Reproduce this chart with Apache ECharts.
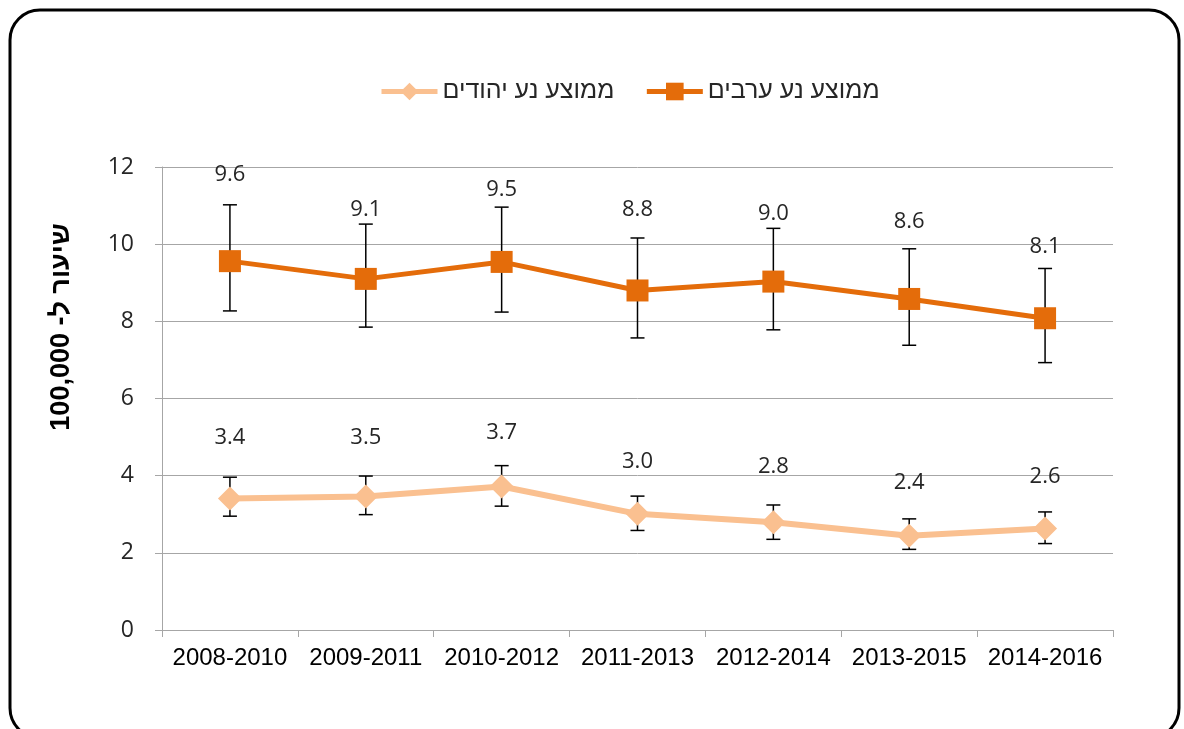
<!DOCTYPE html>
<html>
<head>
<meta charset="utf-8">
<script src="https://cdn.jsdelivr.net/npm/echarts@6/dist/echarts.min.js"></script>
<style>
html,body{margin:0;padding:0;background:#fff;}
#chart{width:1184px;height:729px;}
</style>
</head>
<body>
<div id="chart"></div>
<script>
// ---- data ----
const categories = ['2008-2010','2009-2011','2010-2012','2011-2013','2012-2014','2013-2015','2014-2016'];
const arabName = 'ממוצע נע ערבים';
const jewName = 'ממוצע נע יהודים';
const arabValues = [9.56, 9.10, 9.54, 8.80, 9.03, 8.58, 8.08];
const arabHigh   = [11.02, 10.52, 10.96, 10.16, 10.41, 9.88, 9.37];
const arabLow    = [8.27, 7.85, 8.24, 7.57, 7.78, 7.38, 6.93];
const jewValues  = [3.41, 3.46, 3.72, 3.01, 2.79, 2.44, 2.63];
const jewHigh    = [3.96, 3.99, 4.26, 3.47, 3.24, 2.88, 3.06];
const jewLow     = [2.95, 2.99, 3.21, 2.58, 2.35, 2.09, 2.24];
const yAxisTitle = 'שיעור ל- 100,000';

// label nudges above the error-bar caps (px)
const arabLabelGap = [30, 14, 17, 28, 15, 27, 22];
const jewLabelGap  = [39, 38, 33, 34, 38, 36, 35];

const ORANGE = '#E46C0A';
const PEACH = '#FAC090';
const GRIDC = '#a6a6a6';
const TXT = '#262626';

function errData(vals, hi, lo, gaps) {
  return vals.map((v, i) => [i, hi[i], lo[i], v, gaps[i]]);
}
function renderErr(params, api) {
  const i = api.value(0);
  const top = api.coord([i, api.value(1)]);
  const bot = api.coord([i, api.value(2)]);
  const v = api.value(3);
  const gap = api.value(4);
  const cap = 7;
  const ls = {stroke: '#000', lineWidth: 1.5};
  return {
    type: 'group',
    children: [
      {type: 'line', shape: {x1: top[0], y1: top[1], x2: bot[0], y2: bot[1]}, style: ls},
      {type: 'line', shape: {x1: top[0]-cap, y1: top[1], x2: top[0]+cap, y2: top[1]}, style: ls},
      {type: 'line', shape: {x1: bot[0]-cap, y1: bot[1], x2: bot[0]+cap, y2: bot[1]}, style: ls},
      {type: 'text', x: top[0], y: top[1]-gap, style: {
        text: v.toFixed(1), fill: TXT, fontSize: 22, fontFamily: '"Open Sans", sans-serif',
        textAlign: 'center', textVerticalAlign: 'middle', align: 'center', verticalAlign: 'middle'}}
    ]
  };
}

const chart = echarts.init(document.getElementById('chart'), null, {renderer: 'canvas'});
chart.setOption({
  animation: false,
  backgroundColor: '#fff',
  graphic: [
    {type: 'rect', shape: {x: 10, y: 10, width: 1169, height: 728, r: 30},
     style: {fill: 'none', stroke: '#000', lineWidth: 3}, z: -1},
    {type: 'text', x: 62, y: 327, rotation: Math.PI/2,
     style: {text: yAxisTitle, fill: '#000', fontSize: 27, fontWeight: 'bold',
       fontFamily: '"Liberation Sans", Arial, sans-serif',
       textAlign: 'center', textVerticalAlign: 'middle', align: 'center', verticalAlign: 'middle'}}
  ],
  legend: {
    data: [jewName, arabName],
    left: 374, top: 74,
    itemWidth: 56, itemHeight: 22, itemGap: 30,
    lineStyle: {width: 5},
    textStyle: {fontSize: 25, color: TXT, fontFamily: '"Liberation Sans", Arial, sans-serif'}
  },
  grid: {left: 162, right: 71, top: 167, bottom: 99, containLabel: false},
  xAxis: {
    type: 'category', data: categories, boundaryGap: true,
    axisLine: {lineStyle: {color: GRIDC, width: 1}},
    axisTick: {show: true, length: 7, interval: 0, lineStyle: {color: GRIDC}},
    axisLabel: {color: '#000', fontSize: 24, margin: 16, interval: 0, hideOverlap: false,
      fontFamily: '"Liberation Sans", Arial, sans-serif'}
  },
  yAxis: {
    type: 'value', min: 0, max: 12, interval: 2,
    axisLine: {show: true, lineStyle: {color: GRIDC, width: 1}},
    axisTick: {show: true, length: 7, lineStyle: {color: GRIDC}},
    splitLine: {lineStyle: {color: GRIDC, width: 1}},
    axisLabel: {color: TXT, fontSize: 23, margin: 28, fontFamily: '"Open Sans", sans-serif'}
  },
  series: [
    {name: jewName, type: 'line', data: jewValues, color: PEACH,
     lineStyle: {width: 6, color: PEACH}, symbol: 'diamond', symbolSize: 24,
     itemStyle: {color: PEACH}, z: 3},
    {name: arabName, type: 'line', data: arabValues, color: ORANGE,
     lineStyle: {width: 5, color: ORANGE}, symbol: 'rect', symbolSize: 22,
     itemStyle: {color: ORANGE}, z: 3},
    {type: 'custom', renderItem: renderErr, data: errData(jewValues, jewHigh, jewLow, jewLabelGap), z: 1, silent: true},
    {type: 'custom', renderItem: renderErr, data: errData(arabValues, arabHigh, arabLow, arabLabelGap), z: 1, silent: true}
  ]
});
</script>
</body>
</html>
